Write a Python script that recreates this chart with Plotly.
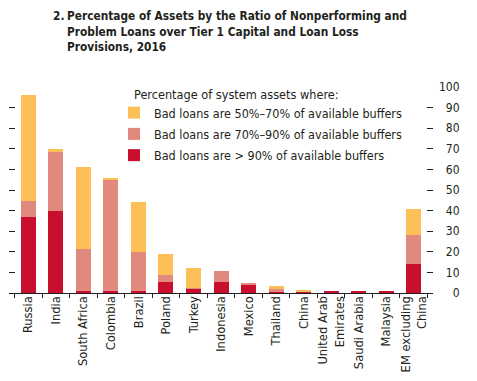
import plotly.graph_objects as go

categories = ["Russia", "India", "South Africa", "Colombia", "Brazil", "Poland", "Turkey",
              "Indonesia", "Mexico", "Thailand", "China", "United Arab<br>Emirates",
              "Saudi Arabia", "Malaysia", "EM excluding<br>China"]
over_90 = [37.1, 39.8, 0.8, 0.8, 1.0, 5.5, 2.1, 5.5, 4.0, 0.6, 0.5, 0.6, 0.6, 0.6, 14.2]
from_70_to_90 = [7.6, 29.1, 20.7, 54.5, 19.0, 3.4, 0.5, 5.3, 0.5, 1.5, 0.2, 0.0, 0.0, 0.0, 14.0]
from_50_to_70 = [51.3, 0.9, 39.6, 0.5, 24.2, 10.1, 9.7, 0.0, 0.0, 1.4, 0.4, 0.0, 0.0, 0.0, 12.6]
y_ticks = [0, 10, 20, 30, 40, 50, 60, 70, 80, 90, 100]

series_names = ["Bad loans are > 90% of available buffers",
                "Bad loans are 70%–90% of available buffers",
                "Bad loans are 50%–70% of available buffers"]
colors = ["#C8102E", "#E0897C", "#FDBF57"]
title_lines = ["Percentage of Assets by the Ratio of Nonperforming and",
               "Problem Loans over Tier 1 Capital and Loan Loss",
               "Provisions, 2016"]

FONT = "DejaVu Sans Condensed, Liberation Sans Narrow, sans-serif"
TXT = "#231F20"

# page body has an 8px margin: work in window pixel coordinates, shifted by OFF
OFF = 8
WIN_W, WIN_H = 477, 381
W, H = WIN_W - OFF, WIN_H - OFF
DOM_L, DOM_R, DOM_T, DOM_B = 9, 433, 87, 293   # window px of plot area
L, R, T, B = DOM_L - OFF, WIN_W - DOM_R, DOM_T - OFF, WIN_H - DOM_B
pw, ph = DOM_R - DOM_L, DOM_B - DOM_T

def px_x(x):
    return (x - DOM_L) / pw

def px_y(y):
    return (DOM_B - y) / ph

fig = go.Figure()
for i, (name, vals, col) in enumerate(zip(series_names, [over_90, from_70_to_90, from_50_to_70], colors)):
    fig.add_trace(go.Bar(x=categories, y=vals, name=name, marker_color=col,
                         marker_line_width=0, legendgroup="g%d" % i, legendrank=3 - i))

# invisible trace to activate left axis ticks
fig.add_trace(go.Scatter(x=categories[:1], y=[0], yaxis="y2", showlegend=False,
                         mode="markers", marker_opacity=0, hoverinfo="skip"))

tick_text = ["\u2007" * (3 - len(str(v))) + str(v) for v in y_ticks]

fig.update_layout(
    width=W, height=H,
    margin=dict(l=L, r=R, t=T, b=B, autoexpand=False),
    paper_bgcolor="white", plot_bgcolor="white",
    barmode="stack", bargap=0.455,
    font=dict(family=FONT, size=12.5, color=TXT),
    showlegend=True,
    legend=dict(x=px_x(114), y=px_y(98), xanchor="left", yanchor="top",
                traceorder="grouped", bgcolor="rgba(0,0,0,0)",
                font=dict(size=12.5, color=TXT), tracegroupgap=2),
    xaxis=dict(range=[-0.7, 14.7], tickangle=-90, tickson="boundaries",
               ticks="outside", ticklen=4, tickcolor=TXT, showline=True,
               linecolor=TXT, linewidth=1, showgrid=False, zeroline=False,
               ticklabelstandoff=-3, tickfont=dict(size=12.8, color=TXT)),
    yaxis=dict(range=[0, 100], side="right", tickvals=y_ticks, ticktext=tick_text,
               ticks="inside", ticklen=6, tickcolor=TXT, showline=False,
               showgrid=False, zeroline=False, ticklabelstandoff=5,
               tickfont=dict(size=12, color=TXT)),
    yaxis2=dict(range=[0, 100], overlaying="y", side="left", tickvals=y_ticks,
                ticks="inside", ticklen=6, tickcolor=TXT, showticklabels=False,
                showline=False, showgrid=False, zeroline=False),
)

title_y = [16.0, 31.6, 47.2]
fig.add_annotation(text="2.", xref="paper", yref="paper", x=px_x(51), y=px_y(title_y[0]),
                   xanchor="left", yanchor="middle", showarrow=False, align="left",
                   font=dict(family=FONT, size=11.8, color=TXT, weight="bold"))
for line, yc in zip(title_lines, title_y):
    fig.add_annotation(text=line, xref="paper", yref="paper", x=px_x(65), y=px_y(yc),
                       xanchor="left", yanchor="middle", showarrow=False, align="left",
                       font=dict(family=FONT, size=11.8, color=TXT, weight="bold"))
fig.add_annotation(text="Percentage of system assets where:", xref="paper", yref="paper",
                   x=px_x(132), y=px_y(94), xanchor="left", yanchor="middle",
                   showarrow=False, font=dict(family=FONT, size=12.6, color=TXT))

fig.write_html("out.html")
